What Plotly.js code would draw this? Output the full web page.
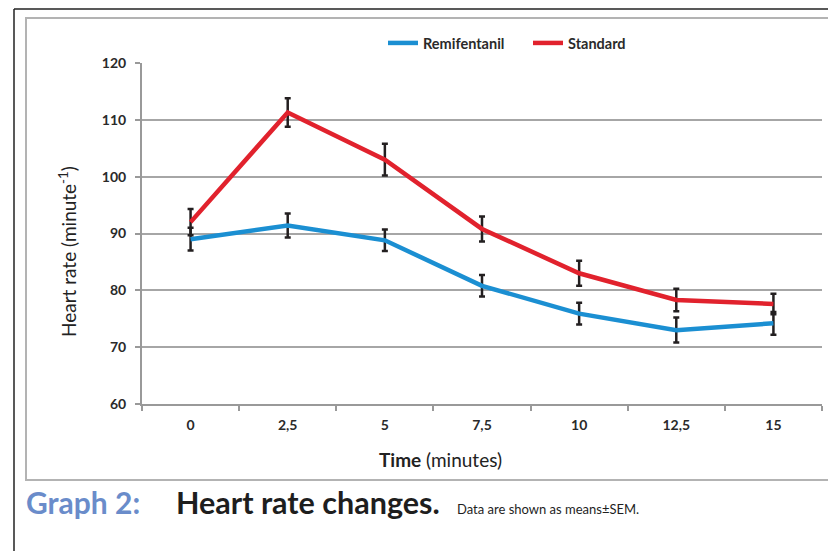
<!DOCTYPE html>
<html>
<head>
<meta charset="utf-8">
<script src="https://cdn.plot.ly/plotly-3.0.1.min.js"></script>
<style>
  html, body { margin: 0; padding: 0; background: #ffffff; }
  #chart { width: 828px; height: 551px; }
</style>
</head>
<body>
<div id="chart"></div>
<script>
// Time points (minutes) and heart rate means ± SEM for both groups
const timeLabels = ["0", "2,5", "5", "7,5", "10", "12,5", "15"];
const remifentanilMean = [89.0, 91.4, 88.8, 80.8, 75.9, 73.0, 74.2];
const remifentanilSem  = [2.0, 2.1, 1.9, 1.9, 1.9, 2.2, 2.0];
const standardMean     = [92.0, 111.3, 103.0, 90.8, 83.0, 78.3, 77.6];
const standardSem      = [2.3, 2.5, 2.8, 2.2, 2.2, 2.0, 1.8];
const yTicks = [60, 70, 80, 90, 100, 110, 120];

const FONT = "Lato, 'Open Sans', 'DejaVu Sans', sans-serif";

// plot area in pixels: left 142, right 822, top 63, bottom 404
const L = 142, R = 822, T = 63, B = 404;
const px = x => (x - L) / (R - L);
const py = y => (B - y) / (B - T);

function series(name, mean, sem, color) {
  return {
    type: "scatter",
    mode: "lines",
    name: name,
    x: timeLabels,
    y: mean,
    line: { color: color, width: 4.5 },
    error_y: {
      type: "data",
      array: sem,
      visible: true,
      color: "#231f20",
      thickness: 2.5,
      width: 3
    },
    hoverinfo: "skip"
  };
}

const data = [
  series("Remifentanil", remifentanilMean, remifentanilSem, "#1b8fd2"),
  series("Standard", standardMean, standardSem, "#e1222d")
];

const layout = {
  width: 828,
  height: 551,
  margin: { l: L, r: 828 - R, t: T, b: 551 - B, pad: 0 },
  paper_bgcolor: "#ffffff",
  plot_bgcolor: "#ffffff",
  font: { family: FONT, color: "#222222" },
  showlegend: true,
  legend: {
    orientation: "h",
    x: px(383),
    y: py(43),
    xanchor: "left",
    yanchor: "middle",
    font: { family: FONT, size: 14.5, color: "#2a2a2a", weight: 700 },
    bgcolor: "rgba(0,0,0,0)",
    entrywidth: 100,
    entrywidthmode: "pixels"
  },
  xaxis: {
    type: "category",
    range: [-0.5, 6.5],
    tickson: "boundaries",
    ticks: "outside",
    ticklen: 5,
    tickwidth: 2,
    tickcolor: "#999999",
    showline: true,
    linecolor: "#999999",
    linewidth: 2,
    showgrid: false,
    zeroline: false,
    tickfont: { family: FONT, size: 14, color: "#2a2a2a", weight: 700 },
    ticklabelstandoff: 7,
    fixedrange: true
  },
  yaxis: {
    range: [60, 120],
    tickvals: yTicks,
    ticktext: yTicks.map(String),
    ticks: "outside",
    ticklen: 5,
    tickwidth: 2,
    tickcolor: "#999999",
    showline: true,
    linecolor: "#999999",
    linewidth: 2,
    showgrid: true,
    gridcolor: "#a6a6a6",
    gridwidth: 2,
    zeroline: false,
    tickfont: { family: FONT, size: 14, color: "#2a2a2a", weight: 700 },
    ticklabelstandoff: 6,
    fixedrange: true
  },
  shapes: [
    // outer black frame (left and top edges)
    { type: "line", xref: "paper", yref: "paper",
      x0: px(14), x1: px(14), y0: py(9), y1: py(560),
      line: { color: "#222222", width: 1.5 } },
    { type: "line", xref: "paper", yref: "paper",
      x0: px(14), x1: px(840), y0: py(9), y1: py(9),
      line: { color: "#222222", width: 1.5 } },
    // inner grey chart frame
    { type: "rect", xref: "paper", yref: "paper",
      x0: px(26), x1: px(850), y0: py(18), y1: py(480),
      line: { color: "#b3b3b3", width: 2 } }
  ],
  annotations: [
    { text: "Heart rate (minute<sup>-1</sup>)", xref: "paper", yref: "paper",
      x: px(68), y: py(252), textangle: -90, showarrow: false,
      xanchor: "center", yanchor: "middle",
      font: { family: FONT, size: 19, color: "#222222" } },
    { text: "<b>Time</b> (minutes)", xref: "paper", yref: "paper",
      x: px(440), y: py(459), showarrow: false,
      xanchor: "center", yanchor: "middle",
      font: { family: FONT, size: 19, color: "#222222" } },
    { text: "<b>Graph 2:</b>", xref: "paper", yref: "paper",
      x: px(24), y: py(502), showarrow: false,
      xanchor: "left", yanchor: "middle",
      font: { family: FONT, size: 30, color: "#6a8cca" } },
    { text: "<b>Heart rate changes.</b>", xref: "paper", yref: "paper",
      x: px(174), y: py(502), showarrow: false,
      xanchor: "left", yanchor: "middle",
      font: { family: FONT, size: 30.5, color: "#1e1e1e" } },
    { text: "Data are shown as means±SEM.", xref: "paper", yref: "paper",
      x: px(455), y: py(509), showarrow: false,
      xanchor: "left", yanchor: "middle",
      font: { family: FONT, size: 13, color: "#1e1e1e" } }
  ]
};

Plotly.newPlot("chart", data, layout, { staticPlot: true, displayModeBar: false });
</script>
</body>
</html>
